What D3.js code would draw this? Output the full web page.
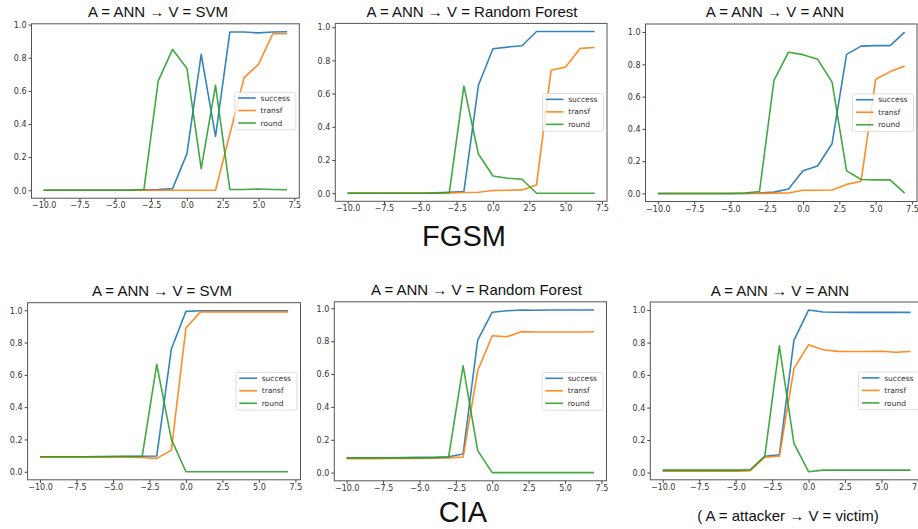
<!DOCTYPE html>
<html>
<head>
<meta charset="utf-8">
<script src="https://cdn.jsdelivr.net/npm/d3@7"></script>
<style>
  body { margin: 0; background: #fff; }
  svg { display: block; }
  .tick text { font-family: "DejaVu Sans", sans-serif; font-size: 8px; fill: #333; }
  .tick line { stroke: #444; }
  .domain { display: none; }
  .ttl { font-family: "Liberation Sans", Arial, sans-serif; fill: #111; }
  .leg text { font-family: "DejaVu Sans", sans-serif; font-size: 7.5px; fill: #333; }
</style>
</head>
<body>
<svg width="918" height="529"></svg>
<script>
// epsilon values on the x axis
var eps = [-10, -9, -8, -7, -6, -5, -4, -3, -2, -1, 0, 1, 2, 3, 4, 5, 6, 7];
var xTicks = [-10, -7.5, -5, -2.5, 0, 2.5, 5, 7.5];
var yTicks = [0, 0.2, 0.4, 0.6, 0.8, 1.0];
var seriesNames = ["success", "transf", "round"];

// FGSM, victim SVM
var fgsmSvmSuccess = [0, 0, 0, 0, 0, 0, 0, 0.003, 0.005, 0.01, 0.22, 0.82, 0.325, 0.955, 0.955, 0.95, 0.955, 0.957];
var fgsmSvmTransf  = [0, 0, 0, 0, 0, 0, 0, 0, 0, 0, 0, 0, 0, 0.34, 0.68, 0.76, 0.945, 0.945];
var fgsmSvmRound   = [0, 0, 0, 0, 0, 0, 0, 0.005, 0.66, 0.85, 0.737, 0.13, 0.633, 0.005, 0.005, 0.008, 0.005, 0.003];

// FGSM, victim Random Forest
var fgsmRfSuccess = [0, 0, 0, 0, 0, 0, 0.002, 0.005, 0.01, 0.65, 0.87, 0.88, 0.888, 0.974, 0.974, 0.974, 0.974, 0.974];
var fgsmRfTransf  = [0, 0, 0, 0, 0, 0, 0, 0.002, 0.004, 0.006, 0.016, 0.018, 0.02, 0.05, 0.74, 0.76, 0.872, 0.878];
var fgsmRfRound   = [0, 0, 0, 0, 0, 0, 0, 0.005, 0.645, 0.236, 0.104, 0.09, 0.084, 0, 0, 0, 0, 0];

// FGSM, victim ANN
var fgsmAnnSuccess = [0, 0, 0, 0, 0, 0, 0, 0.003, 0.008, 0.027, 0.14, 0.17, 0.308, 0.862, 0.913, 0.916, 0.916, 1.0];
var fgsmAnnTransf  = [0, 0, 0, 0, 0, 0, 0, 0, 0.002, 0.003, 0.02, 0.02, 0.021, 0.056, 0.075, 0.708, 0.755, 0.79];
var fgsmAnnRound   = [0, 0, 0, 0, 0, 0, 0.003, 0.012, 0.70, 0.875, 0.86, 0.832, 0.69, 0.14, 0.086, 0.084, 0.084, 0.002];

// CIA, victim SVM
var ciaSvmSuccess = [0.093, 0.093, 0.093, 0.093, 0.094, 0.094, 0.095, 0.096, 0.098, 0.76, 0.993, 0.997, 0.997, 0.997, 0.997, 0.997, 0.997, 0.997];
var ciaSvmTransf  = [0.09, 0.09, 0.09, 0.09, 0.09, 0.09, 0.09, 0.088, 0.083, 0.134, 0.89, 0.99, 0.99, 0.99, 0.99, 0.99, 0.99, 0.99];
var ciaSvmRound   = [0.093, 0.093, 0.093, 0.093, 0.093, 0.094, 0.094, 0.095, 0.665, 0.2, 0, 0, 0, 0, 0, 0, 0, 0];

// CIA, victim Random Forest
var ciaRfSuccess = [0.09, 0.09, 0.09, 0.091, 0.092, 0.093, 0.094, 0.097, 0.114, 0.807, 0.976, 0.985, 0.99, 0.988, 0.99, 0.99, 0.99, 0.99];
var ciaRfTransf  = [0.085, 0.085, 0.085, 0.086, 0.086, 0.087, 0.088, 0.09, 0.095, 0.62, 0.833, 0.827, 0.858, 0.856, 0.856, 0.856, 0.856, 0.857];
var ciaRfRound   = [0.09, 0.09, 0.09, 0.09, 0.09, 0.09, 0.091, 0.095, 0.65, 0.134, 0, 0, 0, 0, 0, 0, 0, 0];

// CIA, victim ANN
var ciaAnnSuccess = [0.012, 0.012, 0.012, 0.012, 0.012, 0.012, 0.015, 0.1, 0.109, 0.814, 1.0, 0.988, 0.987, 0.986, 0.986, 0.986, 0.986, 0.986];
var ciaAnnTransf  = [0.008, 0.008, 0.008, 0.008, 0.008, 0.008, 0.012, 0.095, 0.1, 0.64, 0.786, 0.756, 0.746, 0.745, 0.745, 0.747, 0.74, 0.745];
var ciaAnnRound   = [0.015, 0.015, 0.015, 0.015, 0.015, 0.015, 0.017, 0.1, 0.78, 0.18, 0.005, 0.015, 0.015, 0.015, 0.015, 0.015, 0.015, 0.015];

var colors = ["#1f77b4", "#ff7f0e", "#2ca02c"];

// panel boxes
var panels = [
  {title: "A = ANN \u2192 V = SVM", tx: 158, ty: 17.3, box: [31.5, 23.8, 299.3, 198.2], data: [fgsmSvmSuccess, fgsmSvmTransf, fgsmSvmRound]},
  {title: "A = ANN \u2192 V = Random Forest", tx: 472, ty: 17, box: [335.3, 23.4, 607, 201.3], data: [fgsmRfSuccess, fgsmRfTransf, fgsmRfRound]},
  {title: "A = ANN \u2192 V = ANN", tx: 775, ty: 17.3, box: [645.5, 24, 917, 201.5], data: [fgsmAnnSuccess, fgsmAnnTransf, fgsmAnnRound]},
  {title: "A = ANN \u2192 V = SVM", tx: 162, ty: 295.7, box: [27.6, 302.7, 300.5, 479.8], data: [ciaSvmSuccess, ciaSvmTransf, ciaSvmRound]},
  {title: "A = ANN \u2192 V = Random Forest", tx: 476.5, ty: 295, box: [334.3, 301.8, 606.5, 480.8], data: [ciaRfSuccess, ciaRfTransf, ciaRfRound]},
  {title: "A = ANN \u2192 V = ANN", tx: 780, ty: 295.7, box: [650.3, 302, 923, 479.8], data: [ciaAnnSuccess, ciaAnnTransf, ciaAnnRound]}
];

var svg = d3.select("svg");
var fmt = d3.format(".1f");

panels.forEach(function (p) {
  var b = p.box;
  // matplotlib style 5% margins
  var xd = d3.extent(eps), xp = (xd[1] - xd[0]) * 0.05;
  var all = d3.merge(p.data);
  var yd = d3.extent(all), yp = (yd[1] - yd[0]) * 0.05;

  var x = d3.scaleLinear().domain([xd[0] - xp, xd[1] + xp]).range([b[0], b[2]]);
  var y = d3.scaleLinear().domain([yd[0] - yp, yd[1] + yp]).range([b[3], b[1]]);

  var g = svg.append("g");

  g.append("g")
    .attr("transform", "translate(0," + b[3] + ")")
    .call(d3.axisBottom(x).tickValues(xTicks).tickFormat(fmt).tickSize(3).tickPadding(1.5));

  g.append("g")
    .attr("transform", "translate(" + b[0] + ",0)")
    .call(d3.axisLeft(y).tickValues(yTicks).tickFormat(fmt).tickSize(3).tickPadding(2))
    .selectAll(".tick text").attr("dy", "0.35em");

  var line = d3.line()
    .x(function (d, i) { return x(eps[i]); })
    .y(function (d) { return y(d); });

  var clipId = "c" + Math.round(b[0]) + "_" + Math.round(b[1]);
  g.append("clipPath").attr("id", clipId)
    .append("rect").attr("x", b[0]).attr("y", b[1]).attr("width", b[2] - b[0]).attr("height", b[3] - b[1]);

  p.data.forEach(function (s, k) {
    g.append("path")
      .datum(s)
      .attr("clip-path", "url(#" + clipId + ")")
      .attr("fill", "none")
      .attr("stroke", colors[k])
      .attr("stroke-width", 1.6)
      .attr("stroke-opacity", 0.9)
      .attr("stroke-linejoin", "round")
      .attr("d", line);
  });

  // frame
  g.append("rect")
    .attr("x", b[0]).attr("y", b[1])
    .attr("width", b[2] - b[0]).attr("height", b[3] - b[1])
    .attr("fill", "none").attr("stroke", "#555").attr("stroke-width", 1);

  // legend, centre right
  var lw = 61, lh = 37.6;
  var lx = b[2] - 3.5 - lw, ly = (b[1] + b[3]) / 2 - lh / 2;
  var leg = g.append("g").attr("class", "leg");
  leg.append("rect")
    .attr("x", lx).attr("y", ly).attr("width", lw).attr("height", lh)
    .attr("rx", 2).attr("fill", "#fff").attr("fill-opacity", 0.8)
    .attr("stroke", "#d6d6d6").attr("stroke-width", 0.8);
  seriesNames.forEach(function (n, k) {
    var ry = ly + 5.8 + k * 12.5;
    leg.append("line")
      .attr("x1", lx + 3.3).attr("x2", lx + 21).attr("y1", ry).attr("y2", ry)
      .attr("stroke", colors[k]).attr("stroke-width", 1.6).attr("stroke-opacity", 0.9);
    leg.append("text")
      .attr("x", lx + 25.7).attr("y", ry).attr("dy", "0.35em")
      .text(n);
  });

  g.append("text").attr("class", "ttl")
    .attr("x", p.tx).attr("y", p.ty)
    .attr("text-anchor", "middle")
    .style("font-size", "15px")
    .text(p.title);
});

svg.append("text").attr("class", "ttl")
  .attr("x", 464).attr("y", 246).attr("text-anchor", "middle")
  .style("font-size", "29px").text("FGSM");

svg.append("text").attr("class", "ttl")
  .attr("x", 463).attr("y", 521.7).attr("text-anchor", "middle")
  .style("font-size", "29px").text("CIA");

svg.append("text").attr("class", "ttl")
  .attr("x", 788).attr("y", 521).attr("text-anchor", "middle")
  .style("font-size", "15px").text("( A = attacker \u2192 V = victim)");
</script>
</body>
</html>
